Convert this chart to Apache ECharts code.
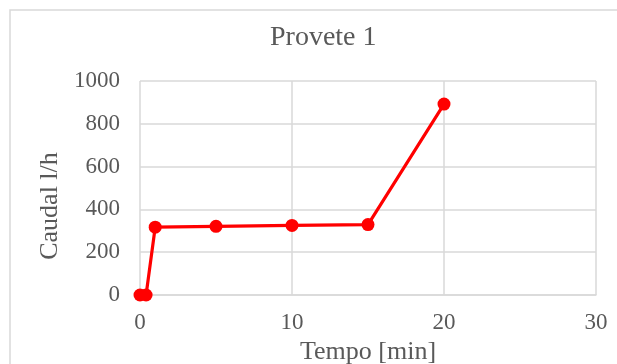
<!DOCTYPE html>
<html>
<head>
<meta charset="utf-8">
<script src="https://cdn.jsdelivr.net/npm/echarts@6/dist/echarts.min.js"></script>
<style>html,body{margin:0;padding:0;background:#fff}#c{width:617px;height:364px}</style>
</head>
<body>
<div id="c"></div>
<script>
const titleText = 'Provete 1';
const xName = 'Tempo [min]';
const yName = 'Caudal l/h';
const tempo = [0, 0.4, 1, 5, 10, 15, 20];
const caudal = [0, 0, 317, 321, 325, 329, 892];

const font = '"Liberation Serif", "Times New Roman", serif';
const grey = '#595959';
const gridCol = '#d9d9d9';

const chart = echarts.init(document.getElementById('c'), null, {renderer: 'canvas'});
chart.setOption({
  animation: false,
  backgroundColor: '#fff',
  graphic: [{
    type: 'rect', shape: {x: 10, y: 10, width: 700, height: 500},
    style: {fill: 'none', stroke: gridCol, lineWidth: 1.5}, z: -1
  }],
  title: {
    text: titleText, left: 265, top: 19,
    textStyle: {fontFamily: font, fontSize: 28, fontWeight: 'normal', color: grey}
  },
  grid: {left: 140, right: 21, top: 81, bottom: 69, outerBoundsMode: 'none', containLabel: false},
  xAxis: {
    type: 'value', min: 0, max: 30, interval: 10,
    name: xName, nameLocation: 'middle', nameGap: 44,
    nameTextStyle: {fontFamily: font, fontSize: 26, color: grey},
    axisLine: {show: true, lineStyle: {color: gridCol, width: 1.5}},
    axisTick: {show: false},
    axisLabel: {fontFamily: font, fontSize: 23, color: grey, margin: 16},
    splitLine: {show: true, lineStyle: {color: gridCol, width: 1.5}}
  },
  yAxis: {
    type: 'value', min: 0, max: 1000, interval: 200,
    name: yName, nameLocation: 'middle', nameGap: 72,
    nameTextStyle: {fontFamily: font, fontSize: 26, color: grey, padding: [0, 36, 0, 0]},
    axisLine: {show: false},
    axisTick: {show: false},
    axisLabel: {fontFamily: font, fontSize: 23, color: grey, margin: 20, formatter: v => String(v)},
    splitLine: {show: true, lineStyle: {color: gridCol, width: 1.5}}
  },
  series: [{
    type: 'line',
    data: tempo.map((t, i) => [t, caudal[i]]),
    symbol: 'circle', symbolSize: 13,
    lineStyle: {color: '#ff0000', width: 3.2},
    itemStyle: {color: '#ff0000'}
  }]
});
</script>
</body>
</html>
